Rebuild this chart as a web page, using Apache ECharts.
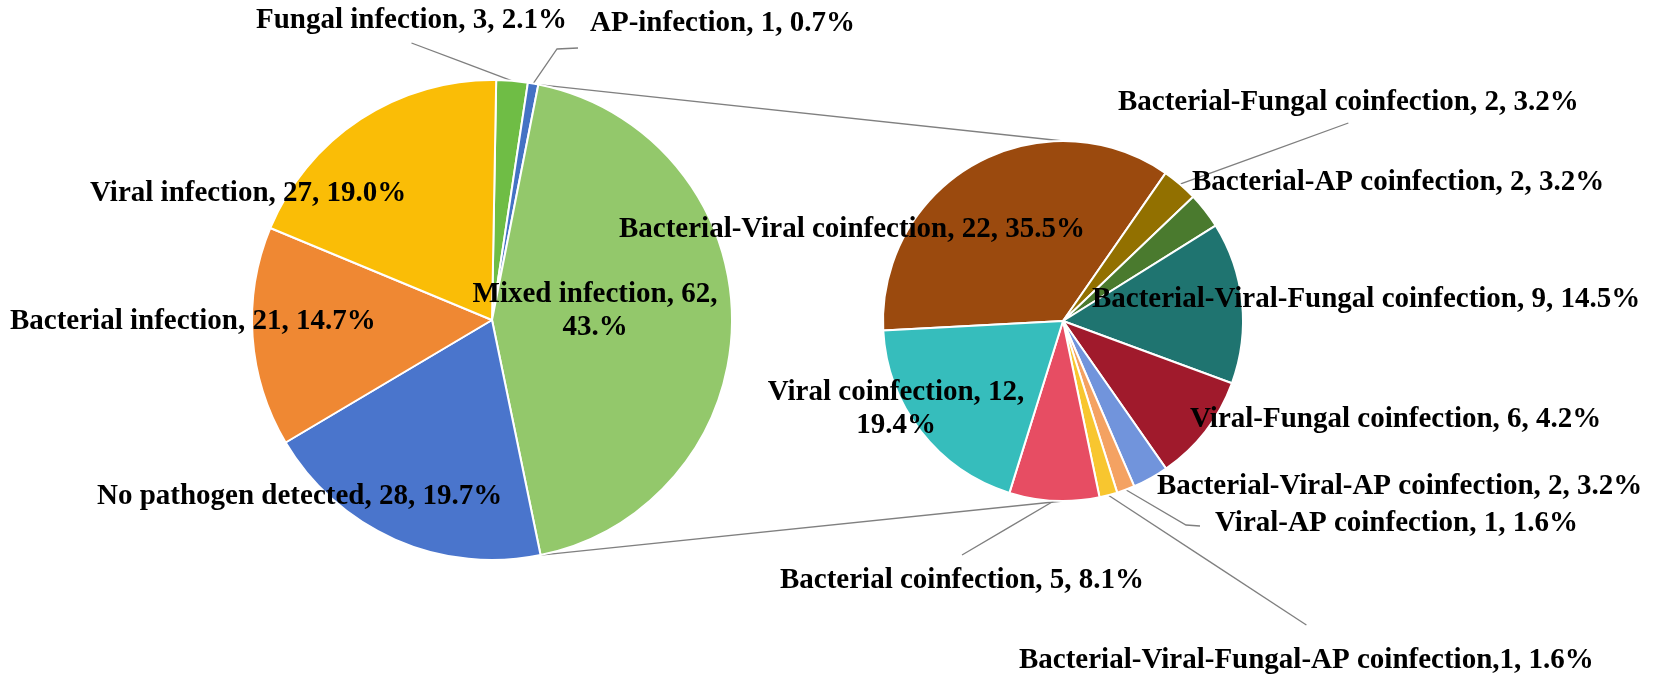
<!DOCTYPE html>
<html lang="en">
<head>
<meta charset="UTF-8">
<title>Infection types - pie of pie</title>
<style>
  html, body { margin: 0; padding: 0; background: #fff; }
  #chart { width: 1654px; height: 682px; }
</style>
</head>
<body>
<div id="chart"></div>
<script src="https://cdn.jsdelivr.net/npm/echarts@6/dist/echarts.min.js"></script>
<script>
// ---- data: all patients ----
const mainNames = ['Fungal infection', 'AP-infection', 'Mixed infection',
  'No pathogen detected', 'Bacterial infection', 'Viral infection'];
const mainCounts = [3, 1, 62, 28, 21, 27];
const mainPercents = ['2.1%', '0.7%', '43.%', '19.7%', '14.7%', '19.0%'];
const mainColors = ['#6fbd45', '#4472c4', '#93c86b', '#4a75cc', '#ef8833', '#fabd06'];

// ---- data: breakdown of mixed infection ----
const subNames = ['Bacterial-Viral coinfection', 'Bacterial-Fungal coinfection',
  'Bacterial-AP coinfection', 'Bacterial-Viral-Fungal coinfection',
  'Viral-Fungal coinfection', 'Bacterial-Viral-AP coinfection', 'Viral-AP coinfection',
  'Bacterial-Viral-Fungal-AP coinfection', 'Bacterial coinfection', 'Viral coinfection'];
const subCounts = [22, 2, 2, 9, 6, 2, 1, 1, 5, 12];
const subPercents = ['35.5%', '3.2%', '3.2%', '14.5%', '4.2%', '3.2%', '1.6%', '1.6%', '8.1%', '19.4%'];
const subColors = ['#9b4a0e', '#927000', '#4a7a2e', '#1f7470', '#a01a2c',
  '#7194dc', '#f4a262', '#f8c62f', '#e74d63', '#36bdbc'];

// ---- layout ----
const LEFT = { cx: 492, cy: 320, r: 240, start: 89 };
const RIGHT = { cx: 1063, cy: 321, r: 180, start: 183 };
const FONT = { family: 'Liberation Serif', size: 29, lineHeight: 33 };

// label anchors; line = extra leader points relative to the label (cx / left, anchor y)
const mainLabelPos = {
  'Fungal infection': { x: 256, y: 21, line: [['cx', 0, 22]] },
  'AP-infection': { x: 590, y: 24, line: [['left', -33, 25], ['left', -12, 24]] },
  'Mixed infection': { x: 595, y: 311, align: 'center', wrap: true },
  'No pathogen detected': { x: 97, y: 497 },
  'Bacterial infection': { x: 10, y: 322 },
  'Viral infection': { x: 90, y: 194 }
};
const subLabelPos = {
  'Bacterial-Viral coinfection': { x: 1085, y: 230, align: 'right' },
  'Bacterial-Fungal coinfection': { x: 1118, y: 103, line: [['cx', 0, 20]] },
  'Bacterial-AP coinfection': { x: 1192, y: 183 },
  'Bacterial-Viral-Fungal coinfection': { x: 1092, y: 300 },
  'Viral-Fungal coinfection': { x: 1190, y: 420 },
  'Bacterial-Viral-AP coinfection': { x: 1157, y: 487 },
  'Viral-AP coinfection': { x: 1215, y: 524, line: [['left', -29, 1], ['left', -15, 2]] },
  'Bacterial-Viral-Fungal-AP coinfection': { x: 1019, y: 661, tight: true, line: [['cx', 0, -36]] },
  'Bacterial coinfection': { x: 780, y: 581, line: [['cx', 0, -26]] },
  'Viral coinfection': { x: 896, y: 409, align: 'center', wrap: true }
};

const measureCtx = document.createElement('canvas').getContext('2d');
measureCtx.font = 'bold ' + FONT.size + 'px "' + FONT.family + '"';
function textWidth(s) {
  return Math.max.apply(null, s.split('\n').map(l => measureCtx.measureText(l).width));
}

function buildData(names, counts, colors, pos) {
  return names.map((n, i) => {
    const item = { name: n, value: counts[i], itemStyle: { color: colors[i] } };
    if (pos[n] && pos[n].line) {
      item.label = { position: 'outside' };
      item.labelLine = { show: true };
    }
    return item;
  });
}

function makeFormatter(pcts, pos) {
  return function (p) {
    const cfg = pos[p.name] || {};
    const first = cfg.tight ? ',' : ', ';
    const second = cfg.wrap ? ',\n' : ', ';
    return p.name + first + p.value + second + pcts[p.dataIndex];
  };
}

function makeLabelLayout(names, pos) {
  return function (p) {
    const cfg = pos[names[p.dataIndex]];
    if (!cfg) return {};
    const align = cfg.align || 'left';
    const out = { x: cfg.x, y: cfg.y, align: align, verticalAlign: 'middle' };
    if (cfg.line && p.labelLinePoints) {
      const w = textWidth(p.text);
      const left = align === 'center' ? cfg.x - w / 2 : (align === 'right' ? cfg.x - w : cfg.x);
      const cx = left + w / 2;
      const start = p.labelLinePoints[0];
      const pts = [start].concat(cfg.line.map(d => [(d[0] === 'cx' ? cx : left) + d[1], cfg.y + d[2]]));
      if (pts.length === 2) {
        pts.splice(1, 0, [(pts[0][0] + pts[1][0]) / 2, (pts[0][1] + pts[1][1]) / 2]);
      }
      out.labelLinePoints = pts;
    }
    return out;
  };
}

function pieSeries(geo, names, counts, colors, pcts, pos) {
  return {
    type: 'pie',
    center: [geo.cx, geo.cy],
    radius: geo.r,
    startAngle: geo.start,
    clockwise: true,
    avoidLabelOverlap: false,
    animation: false,
    silent: true,
    itemStyle: { borderColor: '#ffffff', borderWidth: 2 },
    label: {
      show: true,
      position: 'inside',
      formatter: makeFormatter(pcts, pos),
      fontFamily: FONT.family,
      fontWeight: 'bold',
      fontSize: FONT.size,
      lineHeight: FONT.lineHeight,
      color: '#000000',
      overflow: 'none',
      align: 'center'
    },
    labelLine: { show: false, smooth: false, lineStyle: { color: '#7f7f7f', width: 1.3 } },
    labelLayout: makeLabelLayout(names, pos),
    emphasis: { disabled: true },
    data: buildData(names, counts, colors, pos)
  };
}

// connector lines: edges of the mixed slice to top/bottom of the second pie
const total = mainCounts.reduce((a, b) => a + b, 0);
const mixIdx = mainNames.indexOf('Mixed infection');
const before = mainCounts.slice(0, mixIdx).reduce((a, b) => a + b, 0);
const a0 = (LEFT.start - before / total * 360) * Math.PI / 180;
const a1 = (LEFT.start - (before + mainCounts[mixIdx]) / total * 360) * Math.PI / 180;
function onLeft(a) { return [LEFT.cx + LEFT.r * Math.cos(a), LEFT.cy - LEFT.r * Math.sin(a)]; }
const pTop = onLeft(a0), pBot = onLeft(a1);
const connStyle = { stroke: '#808080', lineWidth: 1.3 };

const chart = echarts.init(document.getElementById('chart'));
chart.setOption({
  backgroundColor: '#ffffff',
  animation: false,
  graphic: [
    { type: 'line', silent: true, z: 0,
      shape: { x1: pTop[0], y1: pTop[1], x2: RIGHT.cx, y2: RIGHT.cy - RIGHT.r }, style: connStyle },
    { type: 'line', silent: true, z: 0,
      shape: { x1: pBot[0], y1: pBot[1], x2: RIGHT.cx, y2: RIGHT.cy + RIGHT.r }, style: connStyle }
  ],
  series: [
    pieSeries(LEFT, mainNames, mainCounts, mainColors, mainPercents, mainLabelPos),
    pieSeries(RIGHT, subNames, subCounts, subColors, subPercents, subLabelPos)
  ]
});
</script>
</body>
</html>
